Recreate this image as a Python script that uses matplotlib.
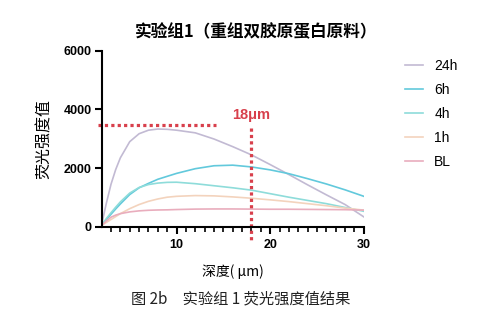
import matplotlib
matplotlib.use('Agg')
import matplotlib.pyplot as plt
import numpy as np

plt.rcParams['font.family'] = ['Liberation Sans', 'Noto Sans CJK SC', 'DejaVu Sans']
cjk = ['Noto Sans CJK SC', 'DejaVu Sans']

# depth (um)
x = [2, 2.5, 3, 3.5, 4, 5, 6, 7, 8, 9, 10, 12, 14, 16, 18, 20, 22, 24, 26, 28, 30]
# fluorescence intensity
y24h = [80, 800, 1450, 1950, 2350, 2900, 3170, 3290, 3330, 3320, 3290, 3200, 2990, 2730, 2450, 2120, 1780, 1430, 1090, 760, 340]
y6h = [60, 250, 430, 610, 780, 1100, 1330, 1480, 1620, 1720, 1820, 1980, 2080, 2100, 2040, 1940, 1810, 1640, 1460, 1260, 1040]
y4h = [60, 280, 480, 670, 850, 1150, 1340, 1440, 1490, 1515, 1520, 1470, 1400, 1330, 1250, 1130, 1010, 900, 790, 660, 530]
y1h = [50, 150, 250, 350, 450, 620, 760, 870, 950, 1010, 1040, 1065, 1055, 1020, 975, 920, 860, 790, 720, 640, 570]
yBL = [50, 200, 330, 400, 450, 510, 545, 565, 575, 580, 590, 605, 610, 610, 605, 600, 600, 595, 590, 585, 570]

labels = ['24h', '6h', '4h', '1h', 'BL']
series = [y24h, y6h, y4h, y1h, yBL]
colors = ['#c2bad3', '#62c9dc', '#8edcda', '#f3d3bd', '#e9adbd']

mark_depth = 18
mark_level = 3450

fig = plt.figure(figsize=(4.91, 3.2), dpi=100)
ax = fig.add_axes([0.207, 0.291, 0.534, 0.551])

for yy, col, lab in zip(series, colors, labels):
    ax.plot(x, yy, color=col, lw=1.2, label=lab)

red = '#d8404c'
ax.plot([1.6, 14.2], [mark_level, mark_level], color=red, lw=2.3,
        linestyle=(0, (1, 1)), clip_on=False)
ax.plot([mark_depth, mark_depth], [3360, -560], color=red, lw=2.3,
        linestyle=(0, (1, 1)), clip_on=False)
ax.text(mark_depth, 3810, '18μm', color=red, fontsize=10.5, fontweight='bold',
        ha='center', va='center')

ax.set_xlim(2, 30)
ax.set_ylim(0, 6000)
ax.set_xticks([10, 20, 30])
ax.set_xticks(np.arange(3, 30, 1), minor=True)
ax.set_yticks([0, 2000, 4000, 6000])
for s in ['top', 'right']:
    ax.spines[s].set_visible(False)
for s in ['left', 'bottom']:
    ax.spines[s].set_linewidth(1.5)
ax.tick_params(axis='both', which='major', width=1.5, length=5, labelsize=9, pad=2)
ax.tick_params(axis='x', which='major', pad=4)
ax.tick_params(axis='x', which='minor', width=1.2, length=3.5)
for t in ax.get_xticklabels() + ax.get_yticklabels():
    t.set_fontweight('bold')

ax.set_ylabel('荧光强度值', family=cjk, fontsize=11.5, labelpad=8)
ax.set_xlabel('深度( μm)', family=cjk, fontsize=10, labelpad=9)
fig.text(0.522, 0.9, '实验组1（重组双胶原蛋白原料）', family=cjk, fontsize=12,
         fontweight='bold', ha='center', va='center')
fig.text(0.49, 0.066, '图 2b　实验组 1 荧光强度值结果', family=cjk, fontsize=11,
         ha='center', va='center', color='#222222')

leg = ax.legend(loc='upper left', bbox_to_anchor=(0.825, 0.816),
                bbox_transform=fig.transFigure, frameon=False, fontsize=10,
                handlelength=1.3, handletextpad=0.8, labelspacing=0.72,
                borderpad=0, borderaxespad=0)

fig.savefig('out.png', dpi=100)
